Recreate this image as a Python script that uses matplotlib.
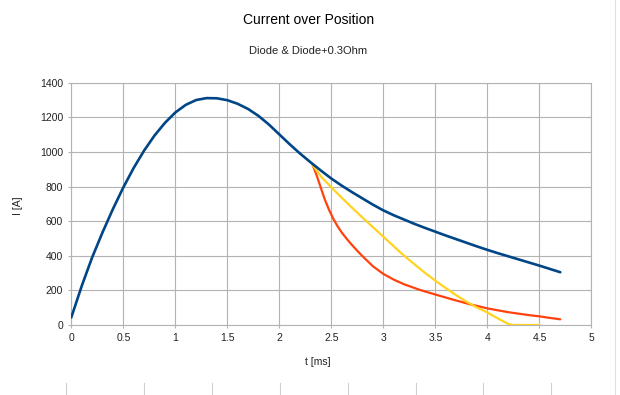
import matplotlib
matplotlib.use("Agg")
import matplotlib.pyplot as plt
from matplotlib.lines import Line2D

plt.rcParams["font.family"] = ["Liberation Sans", "DejaVu Sans"]

# values
t_diode = [0.0, 0.1, 0.2, 0.3, 0.4, 0.5, 0.6, 0.7, 0.8, 0.9, 1.0, 1.1, 1.2, 1.3,
           1.4, 1.5, 1.6, 1.7, 1.8, 1.9, 2.0, 2.1, 2.2, 2.3, 2.4, 2.5, 2.6, 2.7,
           2.8, 2.9, 3.0, 3.1, 3.2, 3.3, 3.4, 3.5, 3.6, 3.7, 3.8, 3.9, 4.0, 4.1,
           4.2, 4.3, 4.4, 4.5, 4.6, 4.7]
i_diode = [44, 225, 390, 535, 670, 795, 908, 1008, 1095, 1168, 1228, 1272, 1300, 1311,
           1310, 1299, 1278, 1248, 1208, 1158, 1101, 1044, 990, 940, 892, 846, 805, 767,
           731, 695, 662, 634, 609, 584, 561, 539, 517, 496, 475, 454, 434, 415,
           397, 379, 361, 343, 324, 305]

t_res = [2.32, 2.36, 2.40, 2.44, 2.48, 2.52, 2.56, 2.60, 2.65, 2.70, 2.75, 2.8, 2.9,
         3.0, 3.1, 3.2, 3.35, 3.5, 3.65, 3.83, 4.0, 4.2, 4.4, 4.5, 4.6, 4.7]
i_res = [925, 862, 790, 720, 662, 612, 570, 534, 496, 461, 428, 397, 339,
         295, 262, 235, 203, 176, 150, 120, 96, 74, 57, 50, 41, 33]

t_yel = [2.32, 2.4, 2.5, 2.6, 2.7, 2.8, 2.9, 3.0, 3.1, 3.2, 3.3, 3.4, 3.5, 3.6,
         3.7, 3.8, 3.9, 4.0, 4.1, 4.2, 4.25, 4.5]
i_yel = [925, 858, 795, 735, 677, 620, 565, 510, 454, 400, 350, 301, 256, 213,
         172, 134, 101, 72, 38, 6, 0, 0]

x_ticks = [0, 0.5, 1, 1.5, 2, 2.5, 3, 3.5, 4, 4.5, 5]
x_labels = ["0", "0.5", "1", "1.5", "2", "2.5", "3", "3.5", "4", "4.5", "5"]
y_ticks = [0, 200, 400, 600, 800, 1000, 1200, 1400]

fig = plt.figure(figsize=(6.2, 3.95), dpi=100)
ax = fig.add_axes([0.115, 0.1772, 0.839, 0.6134])

ax.plot(t_diode, i_diode, color="#004586", lw=1.9, solid_capstyle="round",
        solid_joinstyle="round", zorder=4)
ax.plot(t_res, i_res, color="#ff420e", lw=1.6, solid_capstyle="round",
        solid_joinstyle="round", zorder=3)
ax.plot(t_yel, i_yel, color="#ffd320", lw=1.6, solid_capstyle="round",
        solid_joinstyle="round", zorder=3)

ax.set_xlim(0, 5)
ax.set_ylim(0, 1400)
ax.set_xticks(x_ticks)
ax.set_xticklabels(x_labels)
ax.set_yticks(y_ticks)
ax.grid(True, color="#b3b3b3", lw=0.8)
ax.set_axisbelow(True)
for s in ax.spines.values():
    s.set_color("#b3b3b3")
    s.set_linewidth(0.8)
ax.tick_params(length=2, width=0.8, color="#b3b3b3", labelsize=7.5,
               labelcolor="#222222", pad=4)

fig.text(0.497, 0.949, "Current over Position", ha="center", va="center", fontsize=10)
fig.text(0.497, 0.872, "Diode & Diode+0.3Ohm", ha="center", va="center", fontsize=8,
         color="#222222")
fig.text(0.513, 0.083, "t [ms]", ha="center", va="center", fontsize=7.5, color="#222222")
fig.text(0.029, 0.48, "I [A]", ha="center", va="center", rotation=90, fontsize=7.5,
         color="#222222")

# faint screenshot lines around the chart
fig.add_artist(Line2D([615 / 620, 615 / 620], [0, 1], color="#e0e0e0", lw=0.8))
for px in [66, 144, 212, 280, 348, 416, 483, 551]:
    fig.add_artist(Line2D([px / 620, px / 620], [0, 12 / 395], color="#d0d0d0", lw=0.8))

fig.savefig("out.png", dpi=100, facecolor="white")
